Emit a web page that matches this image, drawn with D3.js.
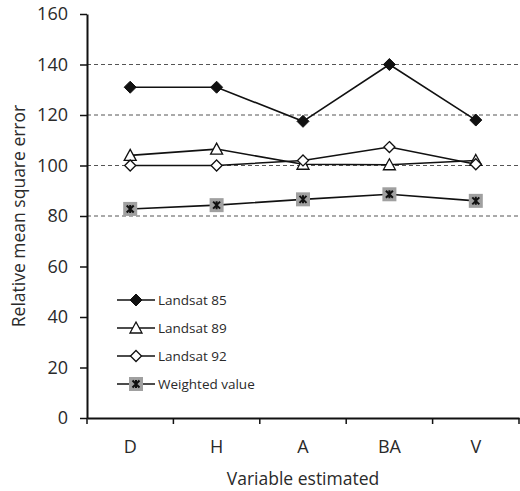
<!DOCTYPE html>
<html>
<head>
<meta charset="utf-8">
<script src="https://cdn.jsdelivr.net/npm/d3@7"></script>
<style>
  body { margin: 0; background: #fff; }
  text { font-family: "Open Sans", sans-serif; fill: #2a2a2a; }
</style>
</head>
<body>
<svg width="520" height="491"></svg>
<script>
var categories = ["D", "H", "A", "BA", "V"];
var landsat85 = [131, 131, 117.5, 140, 118];
var landsat89 = [104, 106.5, 100.5, 100.3, 102];
var landsat92 = [100, 100, 102, 107.3, 100.5];
var weighted = [82.8, 84.3, 86.6, 88.6, 86];
var yTicks = [0, 20, 40, 60, 80, 100, 120, 140, 160];
var gridValues = [80, 100, 120, 140];

var series = [
  { name: "Landsat 85", values: landsat85, marker: "fillDiamond" },
  { name: "Landsat 89", values: landsat89, marker: "triangle" },
  { name: "Landsat 92", values: landsat92, marker: "openDiamond" },
  { name: "Weighted value", values: weighted, marker: "square" }
];

var svg = d3.select("svg");

var scaleX = d3.scaleBand()
  .domain(categories)
  .range([87, 519]);

var scaleY = d3.scaleLinear()
  .domain([0, 160])
  .range([418, 14]);

// dashed grid
svg.selectAll(".grid")
  .data(gridValues)
  .enter()
  .append("line")
  .attr("x1", 87)
  .attr("x2", 519)
  .attr("y1", function(d) { return scaleY(d) })
  .attr("y2", function(d) { return scaleY(d) })
  .attr("stroke", "#555")
  .attr("stroke-width", 1)
  .attr("stroke-dasharray", "4,3");

// axes
var yAxis = svg.append("g")
  .attr("transform", "translate(87,0)")
  .call(d3.axisLeft(scaleY).tickValues(yTicks).tickSize(7).tickSizeOuter(0).tickPadding(12));

var xAxis = svg.append("g")
  .attr("transform", "translate(0,418)")
  .call(d3.axisBottom(scaleX).tickSize(0).tickPadding(22));

xAxis.selectAll(".boundary")
  .data(d3.range(categories.length + 1))
  .enter()
  .append("line")
  .attr("class", "boundary")
  .attr("x1", function(i) { return 87 + i * scaleX.step() })
  .attr("x2", function(i) { return 87 + i * scaleX.step() })
  .attr("y1", 0)
  .attr("y2", 6)
  .attr("stroke", "#111")
  .attr("stroke-width", 1.5);

[yAxis, xAxis].forEach(function(ax) {
  ax.select(".domain").attr("stroke", "#111").attr("stroke-width", 2);
  ax.selectAll(".tick line").attr("stroke", "#111").attr("stroke-width", 1.5);
  ax.selectAll("text")
    .style("font-family", "Open Sans, sans-serif")
    .style("font-size", "18px")
    .attr("fill", "#2a2a2a");
});

// axis titles
svg.append("text")
  .attr("x", 303)
  .attr("y", 485)
  .attr("text-anchor", "middle")
  .style("font-size", "17.5px")
  .text("Variable estimated");

svg.append("text")
  .attr("transform", "translate(25,216) rotate(-90)")
  .attr("text-anchor", "middle")
  .style("font-size", "17.5px")
  .text("Relative mean square error");

function drawMarker(g, type) {
  if (type == "fillDiamond") {
    g.append("path").attr("d", "M0,-6L6,0L0,6L-6,0Z").attr("fill", "#111").attr("stroke", "#111");
  } else if (type == "openDiamond") {
    g.append("path").attr("d", "M0,-5.5L5.5,0L0,5.5L-5.5,0Z").attr("fill", "#fff").attr("stroke", "#111").attr("stroke-width", 1.3);
  } else if (type == "triangle") {
    g.append("path").attr("d", "M0,-6L6,5L-6,5Z").attr("fill", "#fff").attr("stroke", "#111").attr("stroke-width", 1.3);
  } else {
    g.append("rect").attr("x", -7).attr("y", -7).attr("width", 14).attr("height", 14).attr("fill", "#a0a0a0");
    g.append("path").attr("d", "M-3.5,-3.5L3.5,3.5M3.5,-3.5L-3.5,3.5M0,-4L0,4").attr("stroke", "#111").attr("stroke-width", 2);
  }
}

var line = d3.line()
  .x(function(d, i) { return scaleX(categories[i]) + scaleX.bandwidth() / 2 })
  .y(function(d) { return scaleY(d) });

series.forEach(function(s) {
  svg.append("path")
    .attr("d", line(s.values))
    .attr("fill", "none")
    .attr("stroke", "#111")
    .attr("stroke-width", 1.6);

  s.values.forEach(function(v, i) {
    var g = svg.append("g")
      .attr("transform", "translate(" + (scaleX(categories[i]) + scaleX.bandwidth() / 2) + "," + scaleY(v) + ")");
    drawMarker(g, s.marker);
  });
});

// legend
var legend = svg.append("g");
series.forEach(function(s, i) {
  var y = 300 + i * 28;
  legend.append("line")
    .attr("x1", 117).attr("x2", 155)
    .attr("y1", y).attr("y2", y)
    .attr("stroke", "#111").attr("stroke-width", 1.6);
  var g = legend.append("g").attr("transform", "translate(136," + y + ")");
  drawMarker(g, s.marker);
  legend.append("text")
    .attr("x", 158)
    .attr("y", y + 4.5)
    .style("font-size", "13.5px")
    .text(s.name);
});
</script>
</body>
</html>
